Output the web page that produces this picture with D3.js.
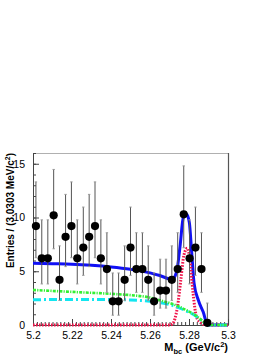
<!DOCTYPE html>
<html>
<head>
<meta charset="utf-8">
<script src="https://cdn.jsdelivr.net/npm/d3@7"></script>
<style>
  body { margin: 0; background: #fff; }
  text { font-family: "Liberation Sans", Arial, sans-serif; }
</style>
</head>
<body>
<div id="chart"></div>
<script>
// svg area
var svgWidth = 274;
var svgHeight = 355;

var margin = { top: 153, right: 46, bottom: 30, left: 33 };
var width = svgWidth - margin.left - margin.right;
var height = svgHeight - margin.top - margin.bottom;

// data points (bin centres, entries, asymmetric errors)
var binCenters = [5.2015, 5.2045, 5.2076, 5.2106, 5.2136, 5.2167, 5.2197, 5.2227, 5.2258, 5.2288,
  5.2318, 5.2348, 5.2379, 5.2409, 5.2439, 5.2470, 5.2500, 5.2530, 5.2561, 5.2591,
  5.2621, 5.2652, 5.2682, 5.2712, 5.2742, 5.2773, 5.2803, 5.2833, 5.2864, 5.2894];
var entries = [9.2, 6.2, 6.2, 10.2, 4.2, 8.2, 9.2, 6.2, 7.2, 8.2,
  9.2, 6.2, 5.2, 2.2, 2.2, 4.2, 7.2, 5.2, 5.2, 4.2,
  2.2, 3.2, 3.2, 4.2, 5.2, 10.3, 6.2, 7.2, 5.2, 0.2];
var errLow = [2.94, 2.38, 2.38, 3.11, 1.91, 2.77, 2.94, 2.38, 2.58, 2.77,
  2.94, 2.38, 2.16, 1.29, 1.29, 1.91, 2.58, 2.16, 2.16, 1.91,
  1.29, 1.63, 1.63, 1.91, 2.16, 3.11, 2.38, 2.58, 2.16, 0];
var errHigh = [4.11, 3.58, 3.58, 4.27, 3.16, 3.95, 4.11, 3.58, 3.77, 3.95,
  4.11, 3.58, 3.38, 2.64, 2.64, 3.16, 3.77, 3.38, 3.38, 3.16,
  2.64, 2.92, 2.92, 3.16, 3.38, 4.5, 3.58, 3.77, 3.38, 1.84];

// fit curves
var totalX = [5.2, 5.21, 5.22, 5.23, 5.24, 5.25, 5.26, 5.265, 5.2695, 5.2712, 5.2737, 5.2754,
  5.2771, 5.2788, 5.2802, 5.2814, 5.2826, 5.2848, 5.2873, 5.2894, 5.29, 5.3];
var totalY = [5.74, 5.70, 5.65, 5.55, 5.40, 5.18, 4.85, 4.6, 4.3, 4.2, 5.0, 7.3,
  10.0, 10.3, 9.5, 6.7, 3.9, 2.3, 1.2, 0.05, 0, 0];

var signalX = [5.2, 5.27, 5.2715, 5.2728, 5.2741, 5.2758, 5.2774, 5.2791, 5.2805, 5.2821,
  5.2838, 5.2855, 5.2875, 5.289, 5.3];
var signalY = [0, 0, 0.1, 0.6, 1.7, 4.2, 6.5, 7.15, 6.05, 2.95,
  0.77, 0.3, 0.05, 0, 0];

var bkgX = [5.2, 5.22, 5.24, 5.25, 5.26, 5.265, 5.27, 5.275, 5.28, 5.2825, 5.2855, 5.288, 5.2895, 5.3];
var bkgY = [3.26, 3.08, 2.9, 2.78, 2.55, 2.3, 2.05, 1.7, 1.25, 1.0, 0.6, 0.2, 0, 0];

var contX = [5.2, 5.22, 5.24, 5.25, 5.26, 5.265, 5.27, 5.275, 5.28, 5.2825, 5.2855, 5.288, 5.2895, 5.3];
var contY = [2.35, 2.38, 2.38, 2.33, 2.2, 2.08, 1.9, 1.6, 1.18, 0.95, 0.55, 0.18, 0, 0];

// axis ticks
var xMajor = [5.2, 5.22, 5.24, 5.26, 5.28, 5.3];
var xTickLabels = ["5.2", "5.22", "5.24", "5.26", "5.28", "5.3"];
var yMajor = [0, 5, 10, 15];

var svg = d3.select("#chart")
  .append("svg")
  .attr("width", svgWidth)
  .attr("height", svgHeight);

var chartGroup = svg.append("g")
  .attr("transform", `translate(${margin.left}, ${margin.top})`);

var xScale = d3.scaleLinear().domain([5.2, 5.3]).range([0, width]);
var yScale = d3.scaleLinear().domain([0, 16]).range([height, 0]);

// frame (top and right)
chartGroup.append("line")
  .attr("x1", 0).attr("x2", width).attr("y1", 0.5).attr("y2", 0.5)
  .attr("stroke", "#b0b0b0").attr("stroke-width", 1);
chartGroup.append("line")
  .attr("x1", width + 0.5).attr("x2", width + 0.5).attr("y1", 0).attr("y2", height)
  .attr("stroke", "#555").attr("stroke-width", 1.2);

// x axis, ticks point up into the frame
var bottomAxis = d3.axisBottom(xScale)
  .tickValues(d3.range(0, 51).map(i => 5.2 + i * 0.002))
  .tickSize(-3)
  .tickSizeOuter(0)
  .tickFormat("");
var xAxis = chartGroup.append("g")
  .attr("transform", `translate(0, ${height})`)
  .call(bottomAxis);
var xMajorAxis = chartGroup.append("g")
  .attr("transform", `translate(0, ${height})`)
  .call(d3.axisBottom(xScale)
    .tickValues(xMajor)
    .tickSize(-6)
    .tickSizeOuter(0)
    .tickPadding(7)
    .tickFormat((d, i) => xTickLabels[i]));

// y axis, ticks point right into the frame
var yAxis = chartGroup.append("g")
  .call(d3.axisLeft(yScale).tickValues(d3.range(0, 17)).tickSize(-3).tickSizeOuter(0).tickFormat(""));
var yMajorAxis = chartGroup.append("g")
  .call(d3.axisLeft(yScale).tickValues(yMajor).tickSize(-6).tickSizeOuter(0).tickPadding(8).tickFormat(d3.format("d")));

[xAxis, xMajorAxis, yAxis, yMajorAxis].forEach(function(ax) {
  ax.selectAll(".domain").attr("stroke", "#444");
  ax.selectAll(".tick line").attr("stroke", "#444");
  ax.selectAll("text")
    .attr("fill", "#000")
    .style("font-size", "10.5px");
});

// curves
var line = d3.line()
  .x(d => xScale(d[0]))
  .y(d => yScale(d[1]))
  .curve(d3.curveMonotoneX);

function drawCurve(xs, ys, color, w, dash) {
  var pts = xs.map((x, i) => [x, ys[i]]);
  var path = chartGroup.append("path")
    .datum(pts)
    .attr("d", line)
    .attr("fill", "none")
    .attr("stroke", color)
    .attr("stroke-width", w);
  if (dash) path.attr("stroke-dasharray", dash);
  return path;
}

drawCurve(totalX, totalY, "#1010f5", 3, null);
drawCurve(signalX, signalY, "#f0144a", 3, "1.6,1.4");
drawCurve(contX, contY, "#12e6f0", 3, "8,3,2,3");
drawCurve(bkgX, bkgY, "#33f033", 2.6, "3,1.2,1.2,1.2");

// error bars
var points = binCenters.map((x, i) => ({ x: x, y: entries[i], lo: errLow[i], hi: errHigh[i] }));

var bars = chartGroup.selectAll(".err")
  .data(points)
  .enter()
  .append("g")
  .attr("class", "err");

bars.append("line")
  .attr("x1", d => xScale(d.x)).attr("x2", d => xScale(d.x))
  .attr("y1", d => yScale(d.y - d.lo)).attr("y2", d => yScale(d.y + d.hi))
  .attr("stroke", "#555").attr("stroke-width", 1);
bars.append("line")
  .attr("x1", d => xScale(d.x) - 1.2).attr("x2", d => xScale(d.x) + 1.2)
  .attr("y1", d => yScale(d.y + d.hi)).attr("y2", d => yScale(d.y + d.hi))
  .attr("stroke", "#999").attr("stroke-width", 1);
bars.filter(d => d.lo > 0).append("line")
  .attr("x1", d => xScale(d.x) - 1.2).attr("x2", d => xScale(d.x) + 1.2)
  .attr("y1", d => yScale(d.y - d.lo)).attr("y2", d => yScale(d.y - d.lo))
  .attr("stroke", "#999").attr("stroke-width", 1);

// markers
chartGroup.selectAll(".dot")
  .data(points)
  .enter()
  .append("circle")
  .attr("class", "dot")
  .attr("cx", d => xScale(d.x))
  .attr("cy", d => yScale(d.y))
  .attr("r", 4.1)
  .attr("fill", "#000");

// axis titles
var xTitle = svg.append("text")
  .attr("x", margin.left + width)
  .attr("y", 351)
  .attr("text-anchor", "end")
  .style("font-size", "11px")
  .style("font-weight", "bold");
xTitle.append("tspan").text("M");
xTitle.append("tspan").attr("dy", 2.5).style("font-size", "7.5px").text("bc");
xTitle.append("tspan").attr("dy", -2.5).text(" (GeV/c");
xTitle.append("tspan").attr("dy", -4).style("font-size", "7.5px").text("2");
xTitle.append("tspan").attr("dy", 4).text(")");

var yTitle = svg.append("text")
  .attr("transform", `translate(13.5, ${margin.top}) rotate(-90)`)
  .attr("text-anchor", "end")
  .style("font-size", "10px")
  .style("font-weight", "bold");
yTitle.append("tspan").text("Entries / (3.0303 MeV/c");
yTitle.append("tspan").attr("dy", -3.5).style("font-size", "7px").text("2");
yTitle.append("tspan").attr("dy", 3.5).text(")");
</script>
</body>
</html>
